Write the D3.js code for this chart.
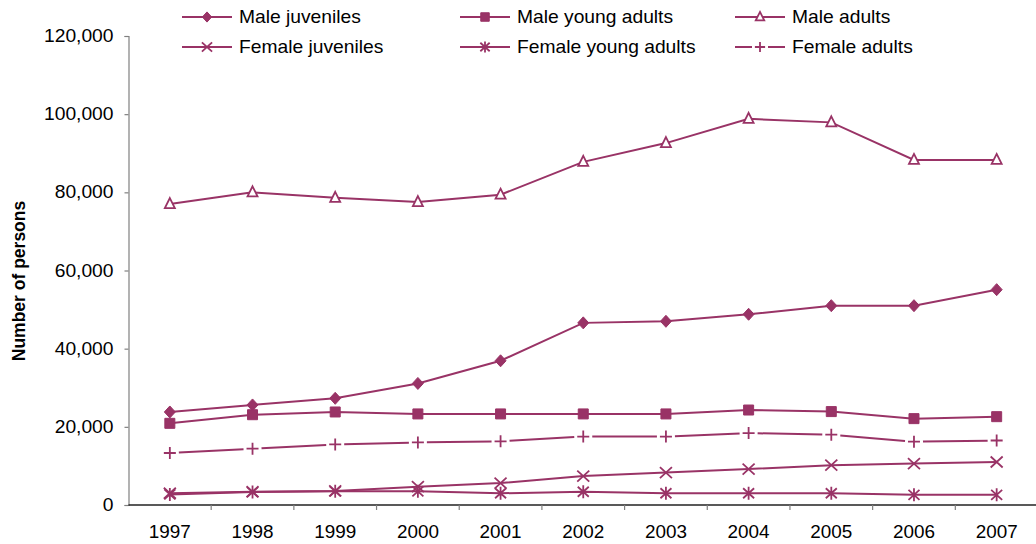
<!DOCTYPE html>
<html>
<head>
<meta charset="utf-8">
<script src="https://cdn.jsdelivr.net/npm/d3@7"></script>
<style>
  html, body { margin: 0; padding: 0; background: #fff; }
  svg { display: block; font-family: "Liberation Sans", Arial, sans-serif; }
</style>
</head>
<body>
<svg id="chart" width="1036" height="544"></svg>
<script>
const years = ["1997","1998","1999","2000","2001","2002","2003","2004","2005","2006","2007"];
const maleJuveniles     = [23800, 25600, 27300, 31100, 36900, 46600, 47000, 48800, 51000, 51000, 55100];
const maleYoungAdults   = [20900, 23100, 23800, 23300, 23300, 23300, 23300, 24300, 23900, 22100, 22600];
const maleAdults        = [77000, 80000, 78600, 77500, 79400, 87800, 92600, 98800, 97900, 88300, 88300];
const femaleJuveniles   = [3000, 3400, 3600, 4700, 5600, 7400, 8300, 9200, 10200, 10600, 11000];
const femaleYoungAdults = [2700, 3300, 3500, 3500, 3000, 3400, 3000, 3000, 3000, 2600, 2600];
const femaleAdults      = [13300, 14400, 15500, 16000, 16300, 17500, 17500, 18400, 18000, 16200, 16500];
const yTicks = [0, 20000, 40000, 60000, 80000, 100000, 120000];
const seriesNames = ["Male juveniles","Male young adults","Male adults","Female juveniles","Female young adults","Female adults"];

const color = "#993366";
const series = [
  {name: seriesNames[0], values: maleJuveniles, marker: "diamond", dashed: false},
  {name: seriesNames[1], values: maleYoungAdults, marker: "square", dashed: false},
  {name: seriesNames[2], values: maleAdults, marker: "triangle", dashed: false},
  {name: seriesNames[3], values: femaleJuveniles, marker: "x", dashed: false},
  {name: seriesNames[4], values: femaleYoungAdults, marker: "asterisk", dashed: false},
  {name: seriesNames[5], values: femaleAdults, marker: "plus", dashed: true}
];

const svg = d3.select("#chart");
const plotLeft = 128.5, plotRight = 1038, plotTop = 36, plotBottom = 505;

const x = d3.scaleBand().domain(years).range([plotLeft, plotRight]).padding(0);
const y = d3.scaleLinear().domain([0, 120000]).range([plotBottom, plotTop]);
const cx = d => x(d) + x.bandwidth() / 2;

// Y axis
const yAxis = svg.append("g").attr("transform", `translate(${plotLeft},0)`)
  .call(d3.axisLeft(y).tickValues(yTicks).tickSize(4).tickPadding(10).tickFormat(d3.format(",")));
yAxis.select(".domain").attr("stroke", "#808080").attr("stroke-width", 1.2);
yAxis.selectAll(".tick line").attr("stroke", "#808080").attr("stroke-width", 1.2);
yAxis.selectAll(".tick text").attr("font-size", 17.5).attr("fill", "#000")
  .attr("font-family", "Liberation Sans, Arial, sans-serif")
  .attr("x", null)
  .attr("transform", "translate(-15,0) scale(1.1,1)");

// X axis (ticks at category boundaries)
const xAxisG = svg.append("g").attr("transform", `translate(0,${plotBottom})`);
xAxisG.append("line").attr("x1", plotLeft).attr("x2", 1036).attr("y1", 0).attr("y2", 0)
  .attr("stroke", "#222").attr("stroke-width", 1.3);
const boundaries = years.slice(1).map(d => x(d));
xAxisG.selectAll("line.tk").data(boundaries).enter().append("line").attr("class", "tk")
  .attr("x1", d => d).attr("x2", d => d).attr("y1", 0).attr("y2", 5)
  .attr("stroke", "#808080").attr("stroke-width", 1.2);
xAxisG.selectAll("text").data(years).enter().append("text")
  .attr("transform", d => `translate(${cx(d)},33) scale(1.05,1)`).attr("text-anchor", "middle")
  .attr("font-size", 18).attr("fill", "#000").text(d => d);

// Y axis title
svg.append("text").attr("transform", "translate(25,281) rotate(-90)")
  .attr("text-anchor", "middle").attr("font-size", 17.5).attr("font-weight", "bold")
  .attr("fill", "#000").text("Number of persons");

// marker paths
function markerPath(type, s) {
  switch (type) {
    case "diamond": return `M0,${-6*s}L${5.5*s},0L0,${6*s}L${-5.5*s},0Z`;
    case "square": return `M${-5*s},${-5*s}H${5*s}V${5*s}H${-5*s}Z`;
    case "triangle": return `M0,${-6*s}L${5*s},${4*s}L${-5*s},${4*s}Z`;
    case "x": return `M${-6*s},${-5.5*s}L${6*s},${5.5*s}M${6*s},${-5.5*s}L${-6*s},${5.5*s}`;
    case "asterisk": return `M${-5.5*s},${-5*s}L${5.5*s},${5*s}M${5.5*s},${-5*s}L${-5.5*s},${5*s}M0,${-6.5*s}V${6.5*s}`;
    case "plus": return `M${-6*s},0H${6*s}M0,${-6*s}V${6*s}`;
  }
}
function styleMarker(sel, type) {
  if (type === "diamond" || type === "square") {
    sel.attr("fill", color).attr("stroke", color).attr("stroke-width", 1);
  } else if (type === "triangle") {
    sel.attr("fill", "#fff").attr("stroke", color).attr("stroke-width", 1.8);
  } else {
    sel.attr("fill", "none").attr("stroke", color).attr("stroke-width", 1.8);
  }
}

const line = d3.line().x(d => d[0]).y(d => d[1]);
const plot = svg.append("g");

series.forEach(s => {
  const pts = s.values.map((v, i) => [cx(years[i]), y(v)]);
  if (s.dashed) {
    const gap = 9;
    for (let i = 0; i < pts.length - 1; i++) {
      const [x1, y1] = pts[i], [x2, y2] = pts[i + 1];
      const len = Math.hypot(x2 - x1, y2 - y1);
      const ux = (x2 - x1) / len, uy = (y2 - y1) / len;
      plot.append("path")
        .attr("d", line([[x1 + ux*gap, y1 + uy*gap], [x2 - ux*gap, y2 - uy*gap]]))
        .attr("fill", "none").attr("stroke", color).attr("stroke-width", 2);
    }
  } else {
    plot.append("path").attr("d", line(pts))
      .attr("fill", "none").attr("stroke", color).attr("stroke-width", 2);
  }
  const m = plot.selectAll(null).data(pts).enter().append("path")
    .attr("transform", d => `translate(${d[0]},${d[1]})`)
    .attr("d", markerPath(s.marker, 1));
  styleMarker(m, s.marker);
});

// Legend
const legX = [182, 460, 735];
const legY = [17, 47];
series.forEach((s, i) => {
  const col = i % 3, row = Math.floor(i / 3);
  const lx = legX[col], ly = legY[row];
  const g = svg.append("g").attr("transform", `translate(${lx},${ly})`);
  if (s.dashed) {
    g.append("line").attr("x1", 0).attr("x2", 17).attr("y1", 0).attr("y2", 0)
      .attr("stroke", color).attr("stroke-width", 2);
    g.append("line").attr("x1", 33).attr("x2", 50).attr("y1", 0).attr("y2", 0)
      .attr("stroke", color).attr("stroke-width", 2);
  } else {
    g.append("line").attr("x1", 0).attr("x2", 50).attr("y1", 0).attr("y2", 0)
      .attr("stroke", color).attr("stroke-width", 2);
  }
  const mk = g.append("path").attr("transform", "translate(25,0)")
    .attr("d", markerPath(s.marker, 0.85));
  styleMarker(mk, s.marker);
  g.append("text").attr("transform", "translate(57,6) scale(1.1,1)")
    .attr("font-size", 17.5).attr("fill", "#000").text(s.name);
});
</script>
</body>
</html>
